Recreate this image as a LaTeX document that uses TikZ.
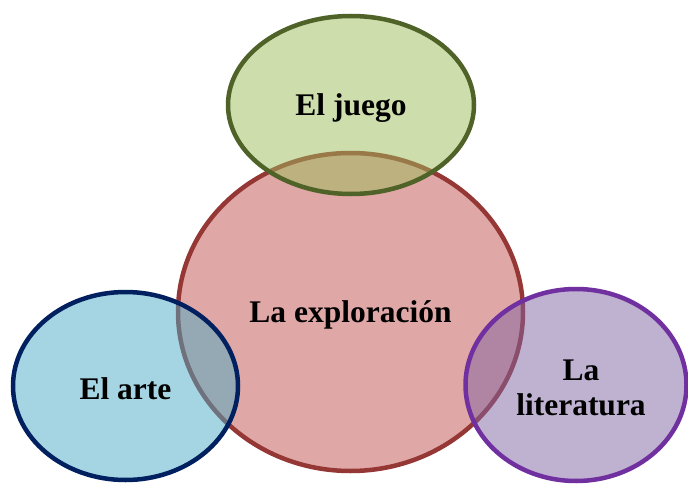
\documentclass[tikz,border=0pt]{standalone}
\usepackage{fontspec}
\setmainfont{Liberation Serif}
\usetikzlibrary{shapes.geometric}
\definecolor{juegofill}{HTML}{9BBB59}
\definecolor{juegoline}{HTML}{4F6228}
\definecolor{explofill}{HTML}{C0504D}
\definecolor{exploline}{HTML}{953735}
\definecolor{artefill}{HTML}{4BACC6}
\definecolor{arteline}{HTML}{002060}
\definecolor{litfill}{HTML}{8064A2}
\definecolor{litline}{HTML}{7030A0}
\newcommand{\lowertext}[1]{\raisebox{-3pt}[\height][\depth]{#1}}
\begin{document}
\begin{tikzpicture}[x=1pt,y=-1pt,
	blob/.style={ellipse,line width=4.5pt,fill opacity=0.5,draw opacity=1,text opacity=1,
		inner sep=0pt,align=center,font=\fontsize{31.5}{35}\selectfont\bfseries}]
	\useasboundingbox (0,0) rectangle (688,487);
	\node[blob,draw=exploline,fill=explofill,minimum width=345pt,minimum height=318pt] at (350.5,312) (explo) {\lowertext{La exploración}};
	\node[blob,draw=juegoline,fill=juegofill,minimum width=246pt,minimum height=178pt] at (351,105) (juego) {\lowertext{El juego}};
	\node[blob,draw=arteline,fill=artefill,minimum width=225pt,minimum height=188pt] at (125.5,386) (arte) {\lowertext{El arte}};
	\node[blob,draw=litline,fill=litfill,minimum width=221pt,minimum height=192pt] at (576,385) (lit) {\hspace*{10pt}\lowertext{La}\\\hspace*{10pt}\lowertext{literatura}};
\end{tikzpicture}
\end{document}
